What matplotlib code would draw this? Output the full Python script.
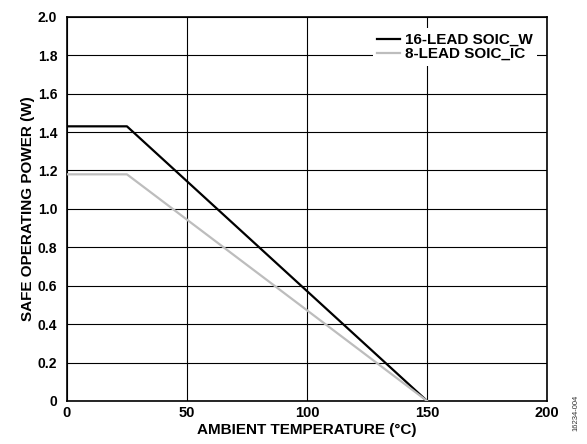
import matplotlib
matplotlib.use("Agg")
import matplotlib.pyplot as plt

plt.rcParams['font.family'] = ['Liberation Sans', 'DejaVu Sans']
plt.rcParams['font.weight'] = 'bold'

temp_16 = [0, 25, 150]
power_16 = [1.43, 1.43, 0]
temp_8 = [0, 25, 150]
power_8 = [1.18, 1.18, 0]
labels = ['16-LEAD SOIC_W', '8-LEAD SOIC_IC']
xticks = [0, 50, 100, 150, 200]
yticks = [0, 0.2, 0.4, 0.6, 0.8, 1.0, 1.2, 1.4, 1.6, 1.8, 2.0]
ytick_labels = ['0', '0.2', '0.4', '0.6', '0.8', '1.0', '1.2', '1.4', '1.6', '1.8', '2.0']

fig = plt.figure(figsize=(5.87, 4.44), dpi=100)
ax = fig.add_axes([0.114, 0.097, 0.818, 0.865])

ax.plot(temp_16, power_16, color='black', lw=1.6, label=labels[0], zorder=3)
ax.plot(temp_8, power_8, color='#bdbdbd', lw=1.6, label=labels[1], zorder=3)

ax.set_xlim(0, 200)
ax.set_ylim(0, 2.0)
ax.set_xticks(xticks)
ax.set_xticklabels([str(t) for t in xticks], fontsize=10.5, fontweight='bold')
ax.set_yticks(yticks)
ax.set_yticklabels(ytick_labels, fontsize=10, fontweight='bold')
ax.tick_params(axis='y', length=0, pad=7)
ax.tick_params(axis='x', length=0, pad=4)
ax.grid(True, color='black', lw=0.8)
ax.set_axisbelow(True)
for s in ax.spines.values():
    s.set_linewidth(1.2)

ax.set_xlabel('AMBIENT TEMPERATURE (°C)', fontsize=11, fontweight='bold', labelpad=2)
ax.set_ylabel('SAFE OPERATING POWER (W)', fontsize=11, fontweight='bold', labelpad=2)

leg = ax.legend(loc='upper right', bbox_to_anchor=(0.995, 0.99), frameon=True,
                fontsize=11, handlelength=1.5, handletextpad=0.3, labelspacing=0.0,
                borderpad=0.3, fancybox=False)
leg.get_frame().set_facecolor('white')
leg.get_frame().set_edgecolor('none')
leg.get_frame().set_alpha(1)
for t in leg.get_texts():
    t.set_fontweight('bold')

fig.text(0.982, 0.03, '16234-004', rotation=90, fontsize=5.5, fontweight='normal',
         color='#333333', ha='center', va='bottom')

fig.savefig('out.png', dpi=100)
